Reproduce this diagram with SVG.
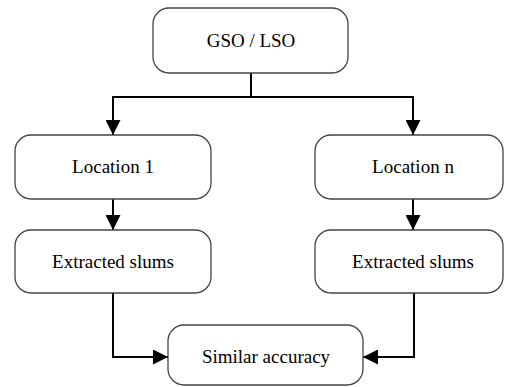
<svg xmlns="http://www.w3.org/2000/svg" width="506" height="387" viewBox="0 0 506 387">
<style>
.box{fill:#fff;stroke:#444;stroke-width:1.3}
.lbl{font-family:'Liberation Serif','Times New Roman',Times,serif;font-size:19px;fill:#000;text-anchor:middle}
.con{fill:none;stroke:#000;stroke-width:2}
</style>
<defs>
<marker id="ah" viewBox="0 0 10 10" refX="10" refY="5" markerWidth="15" markerHeight="15" markerUnits="userSpaceOnUse" orient="auto">
<path d="M0,0 L10,5 L0,10 z" fill="#000"/>
</marker>
</defs>
<rect width="506" height="387" fill="#fff"/>
<g id="connectors">
<path class="con" d="M251,73 V97"/>
<path class="con" d="M113,97 H413"/>
<path class="con" d="M113,96 V135" marker-end="url(#ah)"/>
<path class="con" d="M413,96 V135" marker-end="url(#ah)"/>
<path class="con" d="M113,199 V230" marker-end="url(#ah)"/>
<path class="con" d="M413,199 V230" marker-end="url(#ah)"/>
<path class="con" d="M113,293 V357 H168" marker-end="url(#ah)"/>
<path class="con" d="M414,293 V357 H363" marker-end="url(#ah)"/>
</g>
<g id="gso">
<rect class="box" x="153" y="8" width="195" height="65" rx="16"/>
<text class="lbl" x="251" y="47" font-family="Liberation Serif, serif">GSO / LSO</text>
</g>
<g id="loc1">
<rect class="box" x="15" y="135" width="196" height="64" rx="16"/>
<text class="lbl" x="113" y="173" font-family="Liberation Serif, serif">Location 1</text>
</g>
<g id="locn">
<rect class="box" x="315" y="135" width="188" height="64" rx="16"/>
<text class="lbl" x="413" y="173" font-family="Liberation Serif, serif">Location n</text>
</g>
<g id="ext1">
<rect class="box" x="15" y="230" width="196" height="63" rx="16"/>
<text class="lbl" x="113" y="268" font-family="Liberation Serif, serif">Extracted slums</text>
</g>
<g id="extn">
<rect class="box" x="315" y="230" width="188" height="63" rx="16"/>
<text class="lbl" x="413" y="268" font-family="Liberation Serif, serif">Extracted slums</text>
</g>
<g id="sim">
<rect class="box" x="168" y="325" width="195" height="60" rx="16"/>
<text class="lbl" x="266" y="363" font-family="Liberation Serif, serif">Similar accuracy</text>
</g>
</svg>
